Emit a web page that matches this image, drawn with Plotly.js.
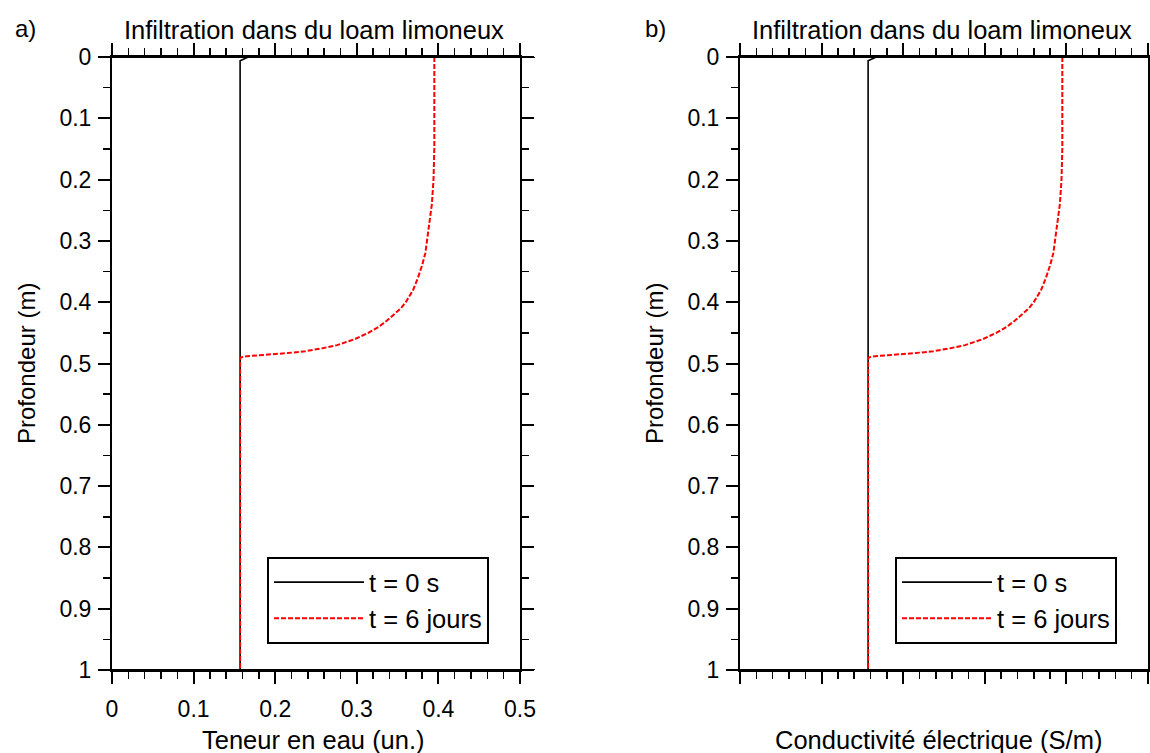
<!DOCTYPE html>
<html>
<head>
<meta charset="utf-8">
<script src="https://cdn.plot.ly/plotly-3.0.1.min.js"></script>
<style>
  html, body { margin: 0; padding: 0; background: #fff; }
  #chart { width: 1150px; height: 753px; }
</style>
</head>
<body>
<div id="chart"></div>
<script>
// Panel a: water content profiles (depth in m, water content unitless)
const depthInitial = [0, 0, 0.006, 1];
const thetaInitial = [0.150, 0.167, 0.157, 0.157];

const depthSixDays = [0, 0.05, 0.10, 0.15, 0.20, 0.24, 0.27, 0.30, 0.32, 0.34, 0.36, 0.38, 0.40, 0.41,
                      0.42, 0.43, 0.44, 0.45, 0.46, 0.47, 0.475, 0.48, 0.483, 0.485, 0.486, 0.488, 0.490, 0.492, 1.0];
const thetaSixDays = [0.395, 0.395, 0.395, 0.395, 0.394, 0.392, 0.389, 0.386, 0.384, 0.380, 0.375, 0.369, 0.360, 0.354,
                      0.346, 0.337, 0.327, 0.314, 0.298, 0.276, 0.258, 0.237, 0.215, 0.195, 0.180, 0.166, 0.158, 0.157, 0.157];

// Panel b: electrical conductivity profiles
const condInitial = [0.150, 0.167, 0.157, 0.157];
const condSixDays = [0.395, 0.395, 0.395, 0.395, 0.394, 0.392, 0.389, 0.386, 0.384, 0.380, 0.375, 0.369, 0.360, 0.354,
                     0.346, 0.337, 0.327, 0.314, 0.298, 0.276, 0.258, 0.237, 0.215, 0.195, 0.180, 0.166, 0.158, 0.157, 0.157];

const seriesNames = ['t = 0 s', 't = 6 jours'];
const panelTitle = 'Infiltration dans du loam limoneux';
const panelLabels = ['a)', 'b)'];
const xTitles = ['Teneur en eau (un.)', 'Conductivité électrique (S/m)'];
const yTitle = 'Profondeur (m)';

const W = 1150, H = 753;
const fx = p => p / W;
const fy = p => 1 - p / H;
const FONT = 'Liberation Sans, Arial, Helvetica, sans-serif';
const domA = [fx(112), fx(520)];
const domB = [fx(740), fx(1148)];

const solid = { color: '#000000', width: 1.6 };
const dashed = { color: '#ff0000', width: 2, dash: '5px,2px' };

// empty series that hold the thin strips carrying the upper tick rows
function stripHolder(xa, ya) {
  return { x: [], y: [], xaxis: xa, yaxis: ya, mode: 'lines', showlegend: false, hoverinfo: 'skip' };
}

const traces = [
  { x: thetaInitial, y: depthInitial, xaxis: 'x', yaxis: 'y', mode: 'lines', name: seriesNames[0], line: solid, legend: 'legend' },
  { x: thetaSixDays, y: depthSixDays, xaxis: 'x', yaxis: 'y', mode: 'lines', name: seriesNames[1], line: dashed, legend: 'legend' },
  { x: condInitial, y: depthInitial, xaxis: 'x2', yaxis: 'y2', mode: 'lines', name: seriesNames[0], line: solid, legend: 'legend2' },
  { x: condSixDays, y: depthSixDays, xaxis: 'x2', yaxis: 'y2', mode: 'lines', name: seriesNames[1], line: dashed, legend: 'legend2' },
  stripHolder('x3', 'y3'), stripHolder('x5', 'y3'),
  stripHolder('x4', 'y4'), stripHolder('x6', 'y4')
];

const minorX = { dtick: 0.02, tick0: 0, ticks: 'outside', ticklen: 7, tickwidth: 1.5, tickcolor: '#000', showgrid: false };
const minorY = { dtick: 0.05, tick0: 0, ticks: 'outside', ticklen: 7, tickwidth: 1.5, tickcolor: '#000', showgrid: false };

function xAxis(domain, anchor, showLabels) {
  return {
    domain: domain, anchor: anchor, range: [0, 0.5], dtick: 0.1, tick0: 0,
    ticks: 'outside', ticklen: 12, tickwidth: 2, tickcolor: '#000',
    showline: true, linewidth: 2, linecolor: '#000', mirror: 'ticks',
    showgrid: false, zeroline: false, showticklabels: showLabels,
    tickfont: { family: FONT, size: 23, color: '#000' }, ticklabelstandoff: 5,
    minor: minorX, automargin: false, fixedrange: true
  };
}
// Upper tick rows: ticks rise from the strip's lower edge, which sits on the frame top
function xTopTicks(domain, anchor, step, len, width) {
  return {
    domain: domain, anchor: anchor, range: [0, 0.5], dtick: step,
    ticks: 'inside', ticklen: len, tickwidth: width, tickcolor: '#000',
    showticklabels: false, showgrid: false, zeroline: false
  };
}
function stripAxis(anchor) {
  return { domain: [fy(57), fy(38)], anchor: anchor, range: [0, 1], visible: false };
}
function yAxis(anchor, mirror) {
  return {
    domain: [fy(670), fy(57)], anchor: anchor, range: [1, 0], dtick: 0.1, tick0: 0,
    ticks: 'outside', ticklen: 12, tickwidth: 2, tickcolor: '#000',
    showline: true, linewidth: 2, linecolor: '#000', mirror: mirror,
    showgrid: false, zeroline: false,
    tickfont: { family: FONT, size: 23, color: '#000' }, ticklabelstandoff: 2,
    minor: minorY, automargin: false, fixedrange: true
  };
}

function legendAt(left, top) {
  return {
    x: fx(left), y: fy(top), xanchor: 'left', yanchor: 'top',
    bordercolor: '#000', borderwidth: 2, bgcolor: '#fff',
    font: { family: FONT, size: 25.5, color: '#000' },
    itemwidth: 90, tracegroupgap: 0
  };
}

function text(t, x, y, size, angle) {
  return {
    text: t, xref: 'paper', yref: 'paper', x: fx(x), y: fy(y),
    xanchor: 'center', yanchor: 'middle', showarrow: false, textangle: angle || 0,
    font: { family: FONT, size: size, color: '#000' }
  };
}

function frameLine(x0, x1, yref, yv) {
  return { type: 'line', xref: 'paper', yref: yref, x0: fx(x0), x1: fx(x1), y0: yv, y1: yv,
           line: { color: '#000', width: 2 } };
}

const layout = {
  width: W, height: H,
  margin: { l: 0, r: 0, t: 0, b: 0 },
  paper_bgcolor: '#fff', plot_bgcolor: 'rgba(0,0,0,0)',
  font: { family: FONT, color: '#000' },
  showlegend: true,
  datarevision: 1,
  xaxis: xAxis(domA, 'y', true),
  yaxis: yAxis('x', 'ticks'),
  xaxis2: xAxis(domB, 'y2', false),
  yaxis2: yAxis('x2', true),
  xaxis3: xTopTicks(domA, 'y3', 0.1, 12, 2),
  xaxis5: xTopTicks(domA, 'y3', 0.02, 7, 1.5),
  yaxis3: stripAxis('x3'),
  xaxis4: xTopTicks(domB, 'y4', 0.1, 12, 2),
  xaxis6: xTopTicks(domB, 'y4', 0.02, 7, 1.5),
  yaxis4: stripAxis('x4'),
  legend: legendAt(267, 557),
  legend2: legendAt(895, 557),
  shapes: [
    frameLine(100, 535, 'y', 0), frameLine(100, 535, 'y', 1),
    frameLine(727, 1150, 'y2', 0), frameLine(727, 1150, 'y2', 1)
  ],
  annotations: [
    text(panelTitle, 314, 30, 25.5), text(panelTitle, 942, 30, 25.5),
    text(panelLabels[0], 25, 29, 24), text(panelLabels[1], 655, 29, 24),
    text(xTitles[0], 313, 740, 25.5), text(xTitles[1], 938, 740, 25.5),
    text(yTitle, 26, 364, 24, -90), text(yTitle, 654, 364, 24, -90)
  ]
};

// Draw once, then run a second full pass so every axis is laid out against final positions
Plotly.newPlot('chart', traces, layout, { displayModeBar: false, staticPlot: true })
  .then(gd => Plotly.react(gd, traces, Object.assign({}, layout, { datarevision: 2 }),
                           { displayModeBar: false, staticPlot: true }));
</script>
</body>
</html>
